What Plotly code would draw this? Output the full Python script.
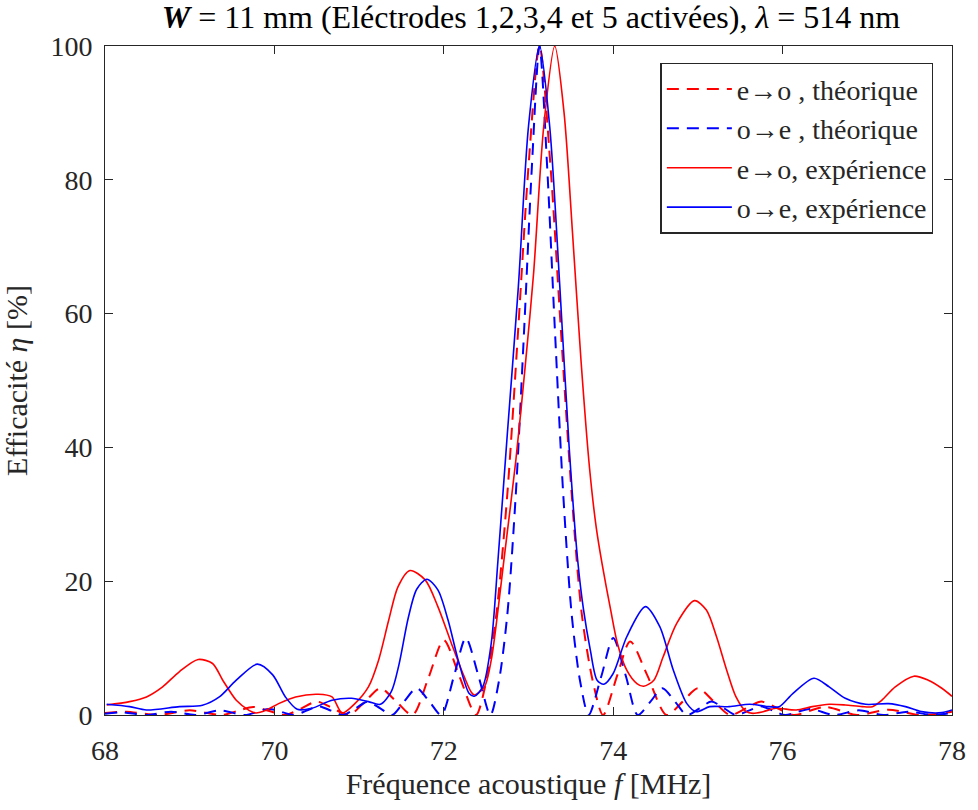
import plotly.graph_objects as go

# ---- data ----
# theoretical e->o (red dashed)
f_th_eo = [68.0, 68.25, 68.63, 69.0, 69.38, 69.56, 69.75, 69.94, 70.13, 70.32, 70.5, 70.69, 70.88,
           71.07, 71.25, 71.44, 71.63, 71.82, 72.0, 72.19, 72.38, 72.5, 72.62, 72.75, 72.88, 73.0,
           73.13, 73.26, 73.38, 73.51, 73.63, 73.76, 73.88, 74.05, 74.2, 74.4, 74.63, 74.82, 75.0,
           75.19, 75.38, 75.57, 75.75, 75.94, 76.13, 76.5, 76.88, 77.25, 77.63, 78.0]
eta_th_eo = [0.3, 0.5, 0.0, 0.7, 0.0, 0.6, 1.2, 0.6, 0.0, 1.0, 2.0, 1.0, 0.0,
             2.0, 4.0, 2.0, 0.0, 5.6, 11.2, 5.6, 0.0, 5.0, 15.0, 33.0, 58.0, 82.0,
             100.0, 82.0, 58.0, 33.0, 15.0, 5.0, 0.0, 6.0, 11.0, 6.0, 0.0, 2.0, 4.0,
             2.0, 0.0, 1.0, 2.0, 1.0, 0.0, 1.2, 0.0, 0.8, 0.0, 0.5]

# theoretical o->e (blue dashed)
f_th_oe = [68.0, 68.2, 68.49, 68.78, 69.07, 69.36, 69.65, 69.94, 70.23, 70.38, 70.52, 70.67, 70.81,
           70.96, 71.1, 71.25, 71.39, 71.53, 71.68, 71.83, 71.97, 72.12, 72.26, 72.41, 72.55, 72.65,
           72.75, 72.85, 72.95, 73.04, 73.13, 73.22, 73.31, 73.41, 73.51, 73.61, 73.71, 73.86, 74.0,
           74.15, 74.29, 74.44, 74.58, 74.73, 74.87, 75.02, 75.16, 75.31, 75.45, 75.6, 75.74, 75.89,
           76.03, 76.32, 76.61, 76.9, 77.19, 77.48, 77.77, 78.0]
eta_th_oe = [0.2, 0.4, 0.0, 0.5, 0.0, 0.7, 0.0, 0.9, 0.0, 0.65, 1.3, 0.65, 0.0,
             1.0, 2.0, 1.0, 0.0, 2.0, 4.0, 2.0, 0.0, 5.8, 11.5, 5.8, 0.0, 5.0,
             15.0, 33.0, 58.0, 82.0, 100.0, 82.0, 58.0, 33.0, 15.0, 5.0, 0.0, 5.8, 11.5,
             5.8, 0.0, 2.0, 4.0, 2.0, 0.0, 1.0, 2.0, 1.0, 0.0, 0.65, 1.3, 0.65,
             0.0, 0.9, 0.0, 0.7, 0.0, 0.5, 0.0, 0.3]

# experiment e->o (red solid)
f_ex_eo = [68.02, 68.29, 68.49, 68.68, 68.88, 69.10, 69.27, 69.39, 69.55, 69.70, 69.78, 69.90,
           70.05, 70.25, 70.52, 70.68, 70.80, 70.95, 71.11, 71.23, 71.35, 71.46, 71.60, 71.78,
           71.93, 72.09, 72.21, 72.32, 72.36, 72.48, 72.56, 72.64, 72.71, 72.85, 72.96, 73.06,
           73.18, 73.31, 73.42, 73.52, 73.62, 73.72, 73.80, 73.87, 73.97, 74.05, 74.16, 74.28, 74.36,
           74.48, 74.59, 74.75, 74.96, 75.10, 75.22, 75.34, 75.45, 75.57, 75.65, 75.77, 75.92,
           76.16, 76.35, 76.55, 76.74, 76.94, 77.06, 77.17, 77.33, 77.55, 77.72, 77.88, 78.0]
eta_ex_eo = [1.5, 2.0, 2.7, 4.2, 6.5, 8.3, 7.7, 5.2, 2.2, 0.7, 0.3, 0.7,
             1.7, 2.7, 3.1, 2.7, 0.3, 1.7, 4.2, 8.2, 14.2, 19.2, 21.6, 20.2,
             16.2, 10.7, 6.7, 3.5, 3.0, 4.2, 8.2, 15.7, 23.2, 38.0, 52.0, 66.0,
             88.0, 100.0, 90.0, 72.0, 53.0, 37.0, 28.0, 22.5, 15.7, 10.7, 6.7, 4.7, 4.3,
             5.2, 8.7, 13.7, 17.1, 15.7, 11.7, 6.7, 2.7, 0.5, 0.25, 0.5, 1.0,
             0.75, 1.25, 1.6, 1.5, 1.25, 1.25, 2.2, 4.2, 5.8, 5.2, 4.0, 2.8]

# experiment o->e (blue solid)
f_ex_oe = [68.02, 68.29, 68.49, 68.88, 69.15, 69.35, 69.55, 69.80, 69.98, 70.13, 70.27, 70.44,
           70.68, 70.91, 71.11, 71.25, 71.38, 71.47, 71.58, 71.68, 71.80, 71.93, 72.05, 72.17, 72.30,
           72.36, 72.46, 72.56, 72.64, 72.75, 72.88, 73.0, 73.13, 73.25, 73.37, 73.48, 73.58,
           73.65, 73.73, 73.81, 73.89, 74.00, 74.16, 74.38, 74.55, 74.71, 74.87, 74.98, 75.14,
           75.37, 75.61, 75.84, 75.96, 76.12, 76.37, 76.55, 76.74, 76.98, 77.25, 77.45, 77.64,
           77.88, 78.0]
eta_ex_oe = [1.6, 1.25, 0.75, 1.25, 1.45, 2.7, 5.2, 7.6, 6.0, 2.7, 0.85, 1.0,
             2.2, 2.5, 2.0, 1.6, 3.5, 7.5, 14.5, 18.8, 20.3, 18.7, 14.2, 8.2, 3.2,
             2.8, 4.2, 10.7, 23.2, 42.0, 64.0, 88.0, 100.0, 88.0, 64.0, 40.0, 23.2,
             15.7, 9.7, 5.2, 4.6, 6.2, 11.7, 16.2, 13.2, 6.7, 1.7, 0.5, 1.25,
             1.25, 1.6, 1.25, 1.25, 3.2, 5.5, 4.2, 2.5, 1.6, 1.7, 1.25, 0.5,
             0.35, 0.75]

x_ticks = [68, 70, 72, 74, 76, 78]
y_ticks = [0, 20, 40, 60, 80, 100]

names = ["e\u2192o , théorique", "o\u2192e , théorique", "e\u2192o, expérience", "o\u2192e, expérience"]

FONT = "Liberation Serif"
TXT = "#262626"
fig = go.Figure()
fig.add_trace(go.Scatter(x=f_th_eo, y=eta_th_eo, mode="lines", name=names[0],
                         line=dict(color="#FF0000", width=2, dash="12px,8px", shape="spline", smoothing=0.8)))
fig.add_trace(go.Scatter(x=f_th_oe, y=eta_th_oe, mode="lines", name=names[1],
                         line=dict(color="#0000FF", width=2, dash="12px,8px", shape="spline", smoothing=0.8)))
fig.add_trace(go.Scatter(x=f_ex_eo, y=eta_ex_eo, mode="lines", name=names[2],
                         line=dict(color="#FF0000", width=1.6, shape="spline", smoothing=0.8)))
fig.add_trace(go.Scatter(x=f_ex_oe, y=eta_ex_oe, mode="lines", name=names[3],
                         line=dict(color="#0000FF", width=1.6, shape="spline", smoothing=0.8)))

axis_common = dict(showgrid=False, zeroline=False, showline=True, linecolor=TXT, linewidth=1,
                   mirror="allticks", ticks="inside", ticklen=8, tickcolor=TXT,
                   tickfont=dict(family=FONT, size=28, color=TXT))
fig.update_xaxes(range=[68, 78], tickvals=x_ticks, ticktext=[str(v) for v in x_ticks],
                 ticklabelstandoff=10,
                 title=dict(text="Fréquence acoustique <i>f</i> [MHz]", font=dict(family=FONT, size=30, color=TXT),
                            standoff=8), **axis_common)
fig.update_yaxes(range=[0, 100], tickvals=y_ticks, ticktext=[str(v) for v in y_ticks],
                 ticklabelstandoff=6,
                 title=dict(text="Efficacité <i>η</i> [%]", font=dict(family=FONT, size=30, color=TXT),
                            standoff=14), **axis_common)

fig.update_layout(
    width=978, height=810,
    margin=dict(l=105, r=21, t=46, b=95),
    paper_bgcolor="white", plot_bgcolor="white",
    title=dict(text="<b><i>W</i></b> = 11 mm (Eléctrodes 1,2,3,4 et 5 activées), <i>λ</i> = 514 nm",
               x=0.543, xanchor="center", y=0.979, yanchor="middle",
               font=dict(family=FONT, size=32, color="black")),
    legend=dict(x=0.978, xanchor="right", y=0.975, yanchor="top",
                bordercolor=TXT, borderwidth=1.5, bgcolor="white",
                font=dict(family=FONT, size=28, color=TXT),
                tracegroupgap=0, itemwidth=65),
    showlegend=True,
)

fig.write_html("out.html", config={"displayModeBar": False},
               post_script="document.body.style.margin='0px';")
